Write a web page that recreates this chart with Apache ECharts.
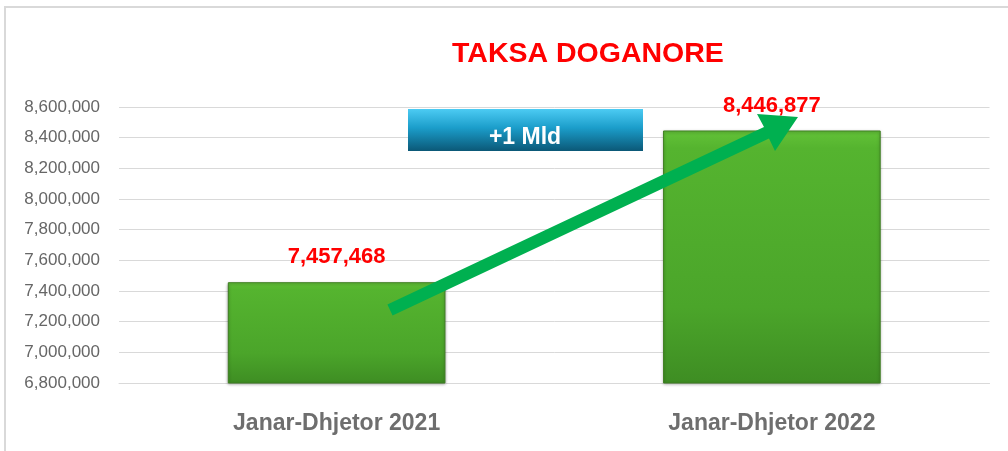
<!DOCTYPE html>
<html>
<head>
<meta charset="utf-8">
<script src="https://cdn.jsdelivr.net/npm/echarts@6/dist/echarts.min.js"></script>
<style>
  html, body { margin: 0; padding: 0; background: #fff; }
  #chart { width: 1008px; height: 451px; }
</style>
</head>
<body>
<div id="chart"></div>
<script>
var chart = echarts.init(document.getElementById('chart'));

// data
const categories = ['Janar-Dhjetor 2021', 'Janar-Dhjetor 2022'];
const values = [7457468, 8446877];
const yMin = 6800000;
const yMax = 8600000;
const yStep = 200000;
const badgeText = '+1 Mld';

const sans = '"Liberation Sans", Arial, sans-serif';

const option = {
  animation: false,
  title: {
    text: 'TAKSA DOGANORE',
    left: 447,
    top: 35,
    textStyle: {
      color: '#ff0000',
      fontFamily: sans,
      fontWeight: 'bold',
      fontSize: 28.5
    }
  },
  grid: { left: 119, right: 18.5, top: 107, bottom: 68 },
  xAxis: {
    type: 'category',
    data: categories,
    axisTick: { show: false },
    axisLine: { lineStyle: { color: '#d9d9d9', width: 1 } },
    axisLabel: {
      margin: 29,
      color: '#6e6e6e',
      fontFamily: sans,
      fontWeight: 'bold',
      fontSize: 23
    }
  },
  yAxis: {
    type: 'value',
    min: yMin,
    max: yMax,
    interval: yStep,
    axisLine: { show: false },
    axisTick: { show: false },
    splitLine: { lineStyle: { color: '#d9d9d9', width: 1 } },
    axisLabel: {
      margin: 19,
      color: '#666666',
      fontFamily: sans,
      fontSize: 17,
      formatter: function (v) { return v.toLocaleString('en-US'); }
    }
  },
  series: [{
    type: 'bar',
    data: values,
    barWidth: '50%',
    itemStyle: {
      color: new echarts.graphic.LinearGradient(0, 0, 0, 1, [
        { offset: 0, color: '#63c238' },
        { offset: 0.07, color: '#55b42f' },
        { offset: 0.7, color: '#4ba52a' },
        { offset: 1, color: '#3e8d23' }
      ]),
      borderColor: '#3f7f22',
      borderWidth: 1,
      shadowColor: 'rgba(0,0,0,0.35)',
      shadowBlur: 3,
      shadowOffsetY: 1
    },
    label: {
      show: true,
      position: 'top',
      distance: 14,
      color: '#ff0000',
      fontFamily: sans,
      fontWeight: 'bold',
      fontSize: 22,
      formatter: function (p) { return p.value.toLocaleString('en-US'); }
    }
  }],
  graphic: [
    {
      type: 'rect',
      silent: true,
      shape: { x: 5, y: 7, width: 1100, height: 500 },
      style: { fill: 'none', stroke: '#d9d9d9', lineWidth: 2 }
    },
    {
      type: 'rect',
      z: 50,
      shape: { x: 408, y: 109, width: 235, height: 42 },
      style: {
        fill: new echarts.graphic.LinearGradient(0, 0, 0, 1, [
          { offset: 0, color: '#4ccbf3' },
          { offset: 0.45, color: '#1b9dca' },
          { offset: 1, color: '#0b5877' }
        ])
      }
    },
    {
      type: 'text',
      z: 51,
      x: 525,
      y: 138,
      style: {
        text: badgeText,
        fill: '#ffffff',
        fontFamily: sans,
        fontWeight: 'bold',
        fontSize: 23,
        align: 'center',
        verticalAlign: 'middle'
      }
    },
    {
      type: 'polygon',
      z: 60,
      shape: {
        points: [
          [387.4, 304.6], [764, 127], [757, 114], [798, 117],
          [775, 151], [769, 138.5], [392.6, 315.4]
        ]
      },
      style: { fill: '#00b050' }
    }
  ]
};

chart.setOption(option);
</script>
</body>
</html>
